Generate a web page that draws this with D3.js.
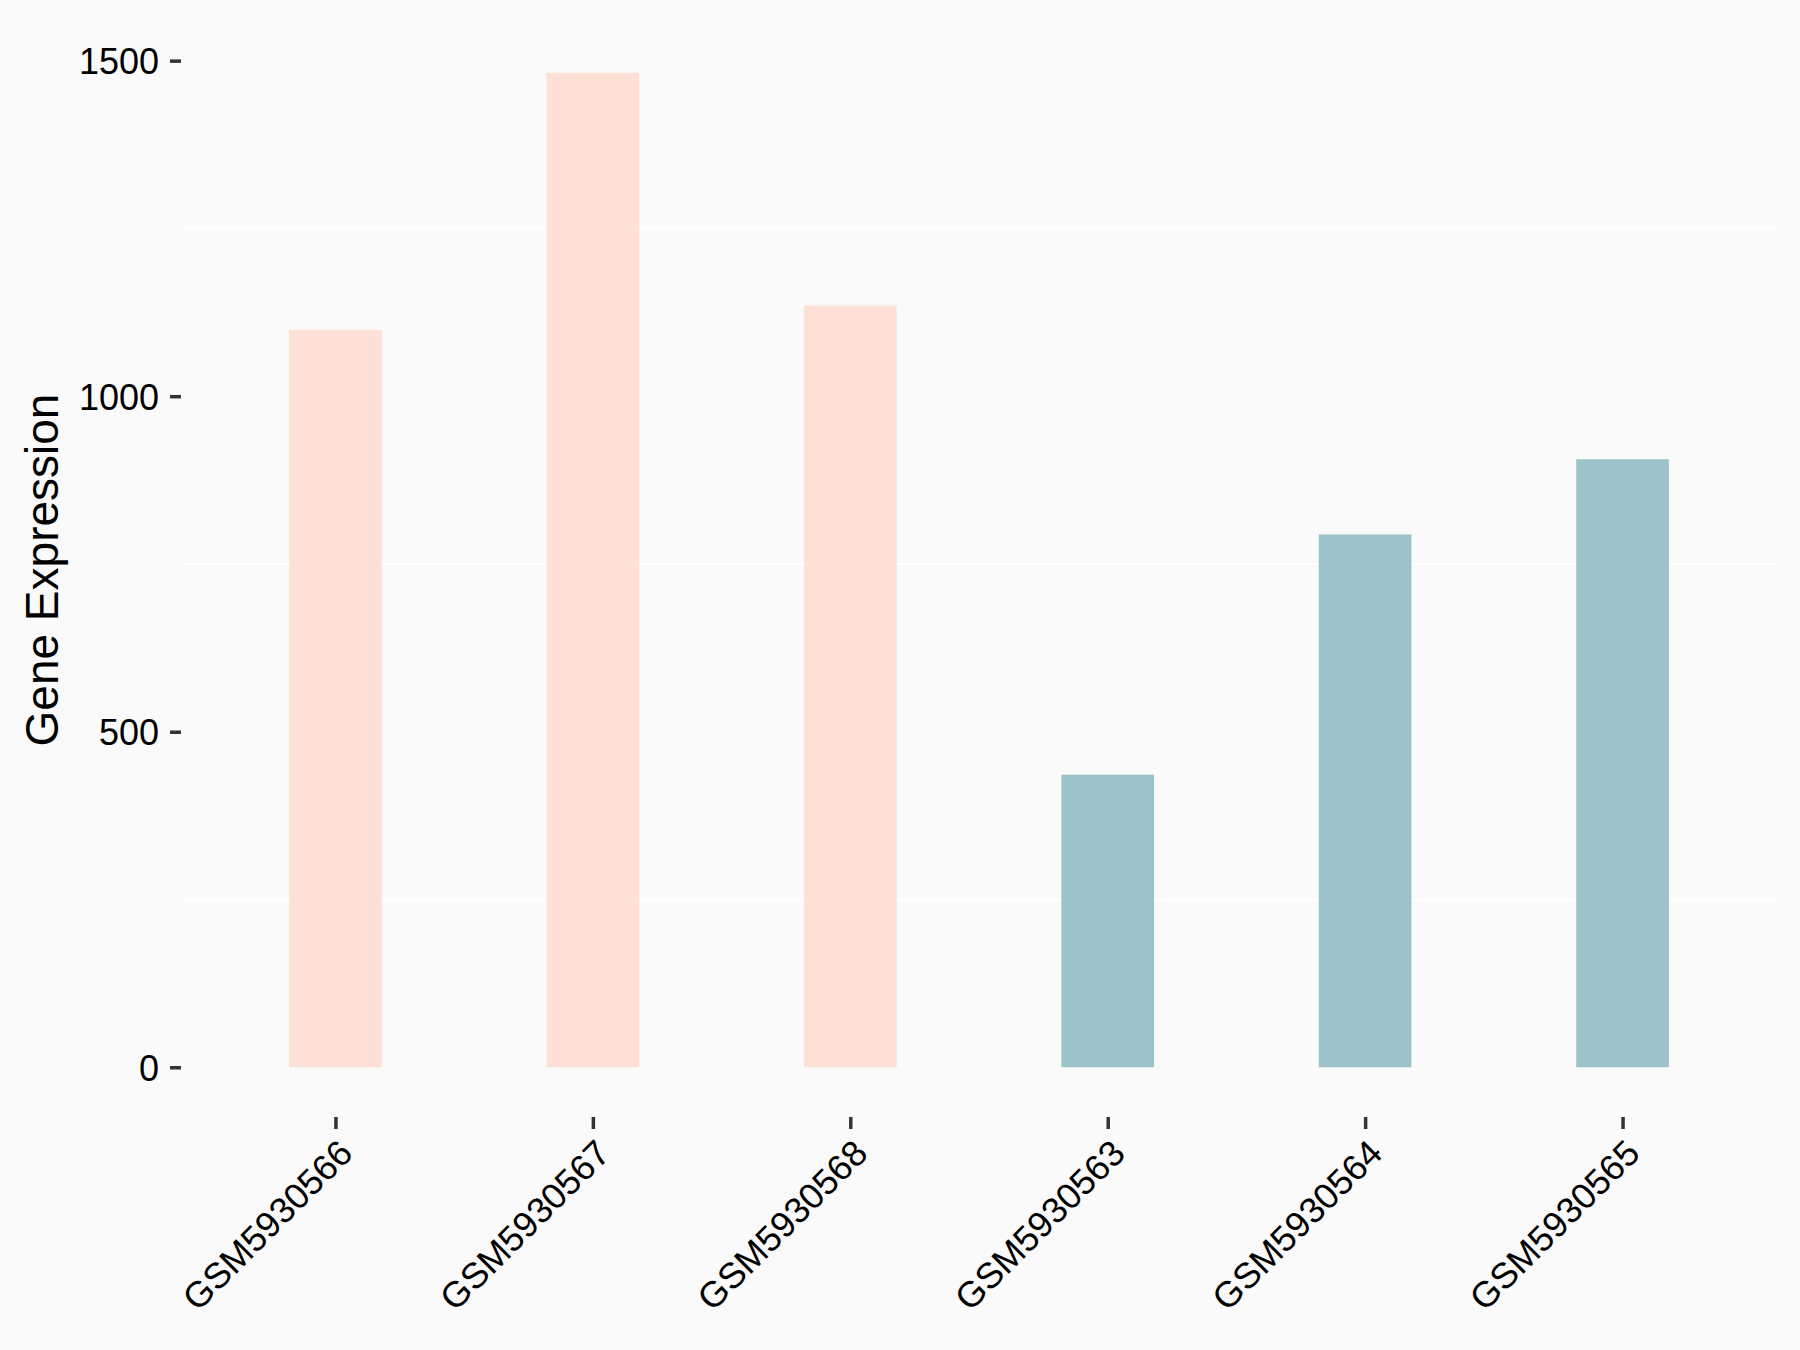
<!DOCTYPE html>
<html>
<head>
<meta charset="utf-8">
<script src="https://cdn.jsdelivr.net/npm/d3@7"></script>
<style>
  body { margin: 0; background: #FAFAFA; }
  svg { display: block; }
  text { font-family: "Liberation Sans", Arial, sans-serif; }
</style>
</head>
<body>
<div id="chart"></div>
<script>
// samples, in plotting order
var samples = ["GSM5930566", "GSM5930567", "GSM5930568", "GSM5930563", "GSM5930564", "GSM5930565"];
// expression values
var expression = [1099, 1482, 1135, 436, 794, 906];
// group of each sample
var groups = ["A", "A", "A", "B", "B", "B"];
var yTicks = [0, 500, 1000, 1500];
var yMinor = [250, 750, 1250];

var W = 1800, H = 1350;
var panelLeft = 181, panelRight = 1777, panelTop = 23, panelBottom = 1117;

var svg = d3.select("#chart").append("svg")
            .attr("width", W)
            .attr("height", H);

svg.append("rect")
   .attr("width", W).attr("height", H)
   .attr("fill", "#FAFAFA");

var maxV = d3.max(expression);

// x: discrete, ggplot style expansion of 0.6 units each side
var x = d3.scalePoint()
          .domain(samples)
          .range([panelLeft, panelRight])
          .padding(0.6);

// y: continuous, 5% expansion
var y = d3.scaleLinear()
          .domain([-0.05 * maxV, 1.05 * maxV])
          .range([panelBottom, panelTop]);

var colour = d3.scaleOrdinal()
               .domain(["A", "B"])
               .range(["#FEE0D6", "#9CC4C8"]);

// minor gridlines (white)
svg.append("g")
   .selectAll("line")
   .data(yMinor)
   .enter().append("line")
     .attr("x1", panelLeft).attr("x2", panelRight)
     .attr("y1", function(d) { return y(d); })
     .attr("y2", function(d) { return y(d); })
     .attr("stroke", "#FFFFFF")
     .attr("stroke-width", 2);

var barW = x.step() * 0.36;

svg.append("g")
   .selectAll("rect")
   .data(samples)
   .enter().append("rect")
     .attr("x", function(d) { return x(d) - barW / 2; })
     .attr("width", barW)
     .attr("y", function(d, i) { return y(expression[i]); })
     .attr("height", function(d, i) { return y(0) - y(expression[i]); })
     .attr("fill", function(d, i) { return colour(groups[i]); });

// y axis
var yAxis = svg.append("g")
   .attr("transform", "translate(" + panelLeft + ",0)")
   .call(d3.axisLeft(y).tickValues(yTicks).tickSize(11).tickPadding(11).tickFormat(d3.format("d")));

yAxis.select(".domain").remove();
yAxis.selectAll(".tick line").attr("stroke", "#333333").attr("stroke-width", 3.5);
yAxis.selectAll(".tick text")
     .attr("fill", "#000000")
     .style("font-size", "36px")
     .attr("dy", "0.36em");

// x axis
var xAxis = svg.append("g")
   .attr("transform", "translate(0," + panelBottom + ")")
   .call(d3.axisBottom(x).tickSize(12).tickFormat(""));

xAxis.select(".domain").remove();
xAxis.selectAll(".tick line").attr("stroke", "#333333").attr("stroke-width", 3.5);

svg.append("g")
   .selectAll("text")
   .data(samples)
   .enter().append("text")
     .attr("transform", function(d) {
       return "translate(" + (x(d) + 1) + "," + (panelBottom + 20) + ") rotate(-45)";
     })
     .attr("text-anchor", "end")
     .attr("dy", "0.72em")
     .style("font-size", "36px")
     .attr("fill", "#000000")
     .text(function(d) { return d; });

// y axis title
svg.append("text")
   .attr("transform", "translate(58," + ((panelTop + panelBottom) / 2) + ") rotate(-90)")
   .attr("text-anchor", "middle")
   .style("font-size", "46px")
   .attr("fill", "#000000")
   .text("Gene Expression");
</script>
</body>
</html>
